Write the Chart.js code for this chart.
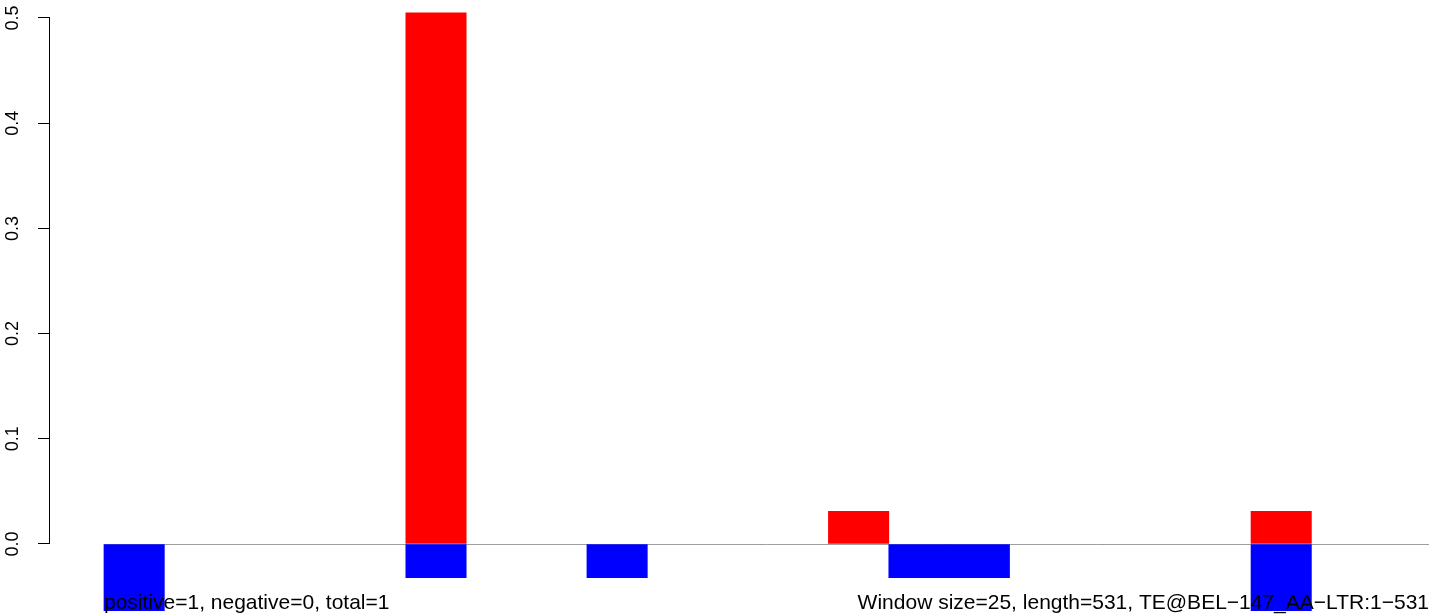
<!DOCTYPE html>
<html>
<head>
<meta charset="utf-8">
<script src="https://cdn.jsdelivr.net/npm/chart.js@4/dist/chart.umd.min.js"></script>
<style>
    body { margin: 0; background: #fff; }
    #wrap { width: 1429px; height: 615px; position: relative; }
</style>
</head>
<body>
<div id="wrap"><canvas id="windowChart"></canvas></div>
<script>
// Window index (25 bp windows along the 531 bp element)
const windowIndex = [0, 1, 2, 3, 4, 5, 6, 7, 8, 9, 10, 11, 12, 13, 14, 15, 16, 17, 18, 19, 20, 21];
// Positive (red) and negative (blue) scores per window
const positiveValues = [0, 0, 0, 0, 0, 0.505, 0, 0, 0, 0, 0, 0, 0.031, 0, 0, 0, 0, 0, 0, 0.031, 0, 0];
const negativeValues = [-0.0635, 0, 0, 0, 0, -0.032, 0, 0, -0.032, 0, 0, 0, 0, -0.032, -0.032, 0, 0, 0, 0, -0.0635, 0, 0];
// Y axis tick values and labels
const yTickValues = [0, 0.1, 0.2, 0.3, 0.4, 0.5];
const yTickLabels = ['0.0', '0.1', '0.2', '0.3', '0.4', '0.5'];

const leftNote = 'positive=1, negative=0, total=1';
const rightNote = 'Window size=25, length=531, TE@BEL\u2212147_AA\u2212LTR:1\u2212531';

// empty windows get no bar at all
const toPoints = vals => vals.map((v, i) => ({ x: windowIndex[i], y: v === 0 ? null : v }));

// Axis line, rotated tick labels, zero line and footer notes (R-style)
const rDecorations = {
    id: 'rDecorations',
    beforeDatasetsDraw(chart) {
        const { ctx, chartArea, scales } = chart;
        const y0 = Math.round(scales.y.getPixelForValue(0)) + 0.5;
        ctx.save();
        ctx.strokeStyle = '#9e9e9e';
        ctx.lineWidth = 1;
        ctx.beginPath();
        ctx.moveTo(scales.x.getPixelForValue(windowIndex[0] - 0.5), y0);
        ctx.lineTo(chartArea.right, y0);
        ctx.stroke();
        ctx.restore();
    },
    afterDraw(chart) {
        const { ctx, chartArea, scales } = chart;
        ctx.save();
        // y axis line from first to last tick
        const ax = Math.round(chartArea.left) - 0.5;
        ctx.strokeStyle = '#000';
        ctx.lineWidth = 1;
        ctx.beginPath();
        ctx.moveTo(ax, scales.y.getPixelForValue(yTickValues[0]));
        ctx.lineTo(ax, scales.y.getPixelForValue(yTickValues[yTickValues.length - 1]));
        ctx.stroke();

        // rotated tick labels
        ctx.fillStyle = '#000';
        ctx.font = '18px "Liberation Sans", Arial, sans-serif';
        ctx.textAlign = 'center';
        ctx.textBaseline = 'alphabetic';
        yTickValues.forEach((v, i) => {
            ctx.save();
            ctx.translate(18, scales.y.getPixelForValue(v));
            ctx.rotate(-Math.PI / 2);
            ctx.fillText(yTickLabels[i], 0, 0);
            ctx.restore();
        });

        // footer notes
        ctx.font = '21px "Liberation Sans", Arial, sans-serif';
        ctx.textAlign = 'left';
        ctx.fillText(leftNote, 104, 609);
        ctx.textAlign = 'right';
        ctx.fillText(rightNote, 1429, 609);
        ctx.restore();
    }
};

const ctx = document.getElementById('windowChart').getContext('2d');
const windowChart = new Chart(ctx, {
    type: 'bar',
    data: {
        datasets: [{
            label: 'positive',
            data: toPoints(positiveValues),
            backgroundColor: '#ff0000',
            borderWidth: 0,
            barPercentage: 1,
            categoryPercentage: 1
        }, {
            label: 'negative',
            data: toPoints(negativeValues),
            backgroundColor: '#0000ff',
            borderWidth: 0,
            barPercentage: 1,
            categoryPercentage: 1
        }]
    },
    options: {
        responsive: true,
        maintainAspectRatio: false,
        animation: false,
        devicePixelRatio: 1,
        layout: {
            padding: { left: 38, top: 0, right: 0, bottom: 0 }
        },
        scales: {
            x: {
                type: 'linear',
                min: -1.394,
                max: 21.448,
                offset: false,
                stacked: true,
                display: false,
                afterBuildTicks: axis => {
                    axis.ticks = windowIndex.map(v => ({ value: v }));
                }
            },
            y: {
                min: -0.0675,
                max: 0.5171,
                stacked: true,
                border: { display: false },
                grid: {
                    drawOnChartArea: false,
                    drawTicks: true,
                    tickLength: 12,
                    color: '#000',
                    lineWidth: 1
                },
                ticks: { display: false },
                afterBuildTicks: axis => {
                    axis.ticks = yTickValues.map(v => ({ value: v }));
                }
            }
        },
        plugins: {
            legend: { display: false },
            tooltip: { enabled: false }
        }
    },
    plugins: [rDecorations]
});
</script>
</body>
</html>
